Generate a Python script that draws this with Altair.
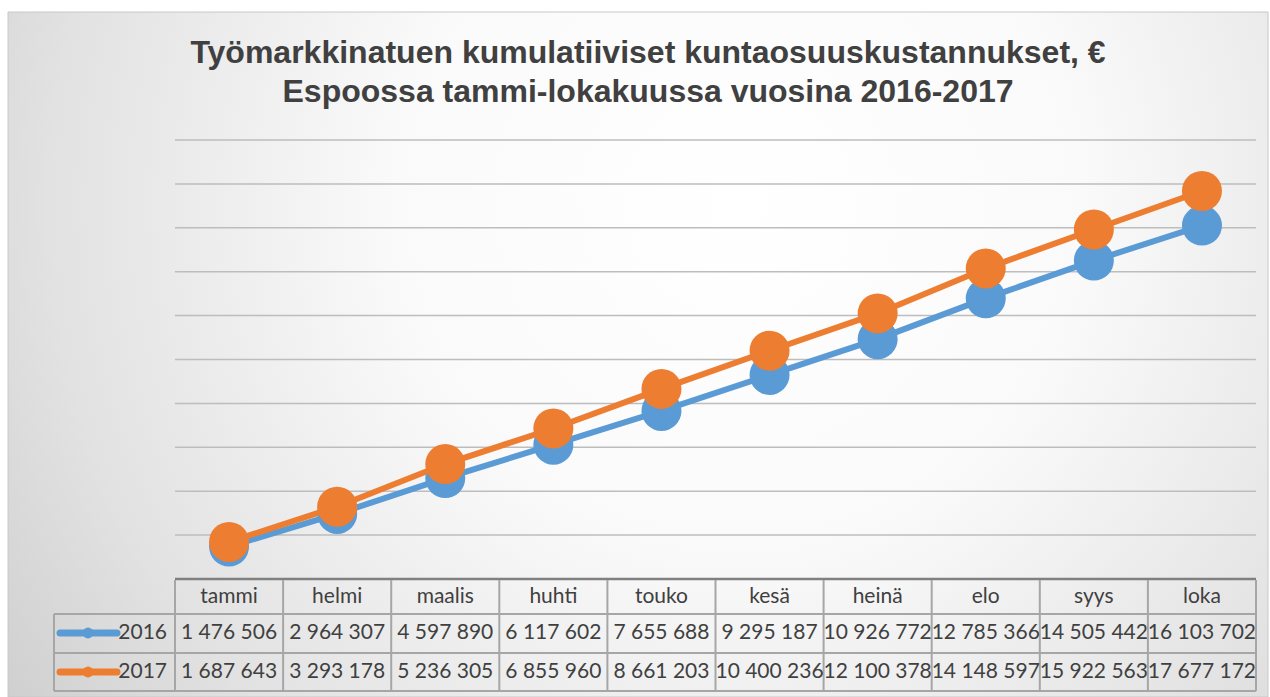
import altair as alt
import pandas as pd

months = ["tammi", "helmi", "maalis", "huhti", "touko", "kesä", "heinä", "elo", "syys", "loka"]
v2016 = [1476506, 2964307, 4597890, 6117602, 7655688, 9295187, 10926772, 12785366, 14505442, 16103702]
v2017 = [1687643, 3293178, 5236305, 6855960, 8661203, 10400236, 12100378, 14148597, 15922563, 17677172]
series_names = ["2016", "2017"]
series_colors = ["#5B9BD5", "#ED7D31"]
grid_values = [2000000, 4000000, 6000000, 8000000, 10000000, 12000000, 14000000, 16000000, 18000000, 20000000]
title_lines = ["Työmarkkinatuen kumulatiiviset kuntaosuuskustannukset, €",
               "Espoossa tammi-lokakuussa vuosina 2016-2017"]

W, H = 1081, 439
STEP = W / len(months)


def fmt(v):
    return f"{v:,}".replace(",", " ")


series_values = [v2016, v2017]
frames = []
for name, vals in zip(series_names, series_values):
    frames.append(pd.DataFrame({"month": months, "year": name, "value": vals,
                                "label": [fmt(v) for v in vals]}))

xenc = alt.X("month:N", sort=months,
             scale=alt.Scale(type="point", padding=0.5, domain=months), axis=None)
yscale = alt.Scale(domain=[0, 20000000], nice=False, zero=True)

one = pd.DataFrame({"a": [0]})

gradient = {
    "gradient": "radial",
    "x1": 0.58, "y1": 0.38, "r1": 0.0,
    "x2": 0.58, "y2": 0.38, "r2": 0.78,
    "stops": [
        {"offset": 0.0, "color": "#ffffff"},
        {"offset": 0.35, "color": "#fafafa"},
        {"offset": 0.7, "color": "#e2e2e2"},
        {"offset": 1.0, "color": "#c6c6c6"},
    ],
}

bg = alt.Chart(one).mark_rect(fill=gradient, stroke="#c8c8c8", strokeWidth=1).encode(
    x=alt.value(-167), x2=alt.value(1093), y=alt.value(-128), y2=alt.value(557))

grid = alt.Chart(pd.DataFrame({"v": grid_values})).mark_rule(
    color="#bdbdbd", strokeWidth=1.5).encode(
    y=alt.Y("v:Q", scale=yscale, axis=None), x=alt.value(0), x2=alt.value(W))

layers = [bg, grid]

for df, col in zip(frames, series_colors):
    layers.append(alt.Chart(df).mark_line(color=col, strokeWidth=6).encode(
        x=xenc, y=alt.Y("value:Q", scale=yscale, axis=None)))
    layers.append(alt.Chart(df).mark_circle(color=col, size=1600, opacity=1).encode(
        x=xenc, y=alt.Y("value:Q", scale=yscale, axis=None)))

# title
title_y = [-77, -38]
for line, ty in zip(title_lines, title_y):
    layers.append(alt.Chart(pd.DataFrame({"t": [line]})).mark_text(
        font="Liberation Sans", fontWeight="bold", fontSize=32, color="#404040",
        align="center", baseline="alphabetic").encode(
        text="t:N", x=alt.value(473), y=alt.value(ty)))

# table lines
line_col = "#a6a6a6"
layers.append(alt.Chart(one).mark_rule(color="#808080", strokeWidth=2.5).encode(
    x=alt.value(0), x2=alt.value(W), y=alt.value(439)))
for yy in [474, 513, 551]:
    layers.append(alt.Chart(one).mark_rule(color=line_col, strokeWidth=2).encode(
        x=alt.value(-121), x2=alt.value(W), y=alt.value(yy)))
layers.append(alt.Chart(pd.DataFrame({"month": months})).mark_rule(
    color=line_col, strokeWidth=2, xOffset=-STEP / 2).encode(
    x=xenc, y=alt.value(440), y2=alt.value(551)))
layers.append(alt.Chart(one).mark_rule(color=line_col, strokeWidth=2).encode(
    x=alt.value(W), y=alt.value(440), y2=alt.value(551)))
layers.append(alt.Chart(one).mark_rule(color=line_col, strokeWidth=2).encode(
    x=alt.value(-121), y=alt.value(474), y2=alt.value(551)))

# header row
layers.append(alt.Chart(pd.DataFrame({"month": months})).mark_text(
    font="Lato", fontSize=21, color="#404040", baseline="middle").encode(
    x=xenc, text="month:N", y=alt.value(457)))

row_y = [493, 532]
for df, col, ry, name in zip(frames, series_colors, row_y, series_names):
    layers.append(alt.Chart(df).mark_text(
        font="Lato", fontSize=21, color="#404040", baseline="middle").encode(
        x=xenc, text="label:N", y=alt.value(ry)))
    layers.append(alt.Chart(one).mark_rule(color=col, strokeWidth=7, strokeCap="round").encode(
        x=alt.value(-115), x2=alt.value(-58), y=alt.value(ry)))
    layers.append(alt.Chart(one).mark_circle(color=col, size=120, opacity=1).encode(
        x=alt.value(-87), y=alt.value(ry)))
    layers.append(alt.Chart(pd.DataFrame({"t": [name]})).mark_text(
        font="Lato", fontSize=21, color="#404040", baseline="middle", align="right").encode(
        text="t:N", x=alt.value(-8), y=alt.value(ry)))

chart = alt.layer(*layers).properties(
    width=W, height=H,
    autosize=alt.AutoSizeParams(type="none"),
    padding={"left": 175, "top": 140, "right": 14, "bottom": 118},
    background="white",
).configure_view(stroke=None)

chart.save("out.html", embed_options={"renderer": "svg", "actions": False})
